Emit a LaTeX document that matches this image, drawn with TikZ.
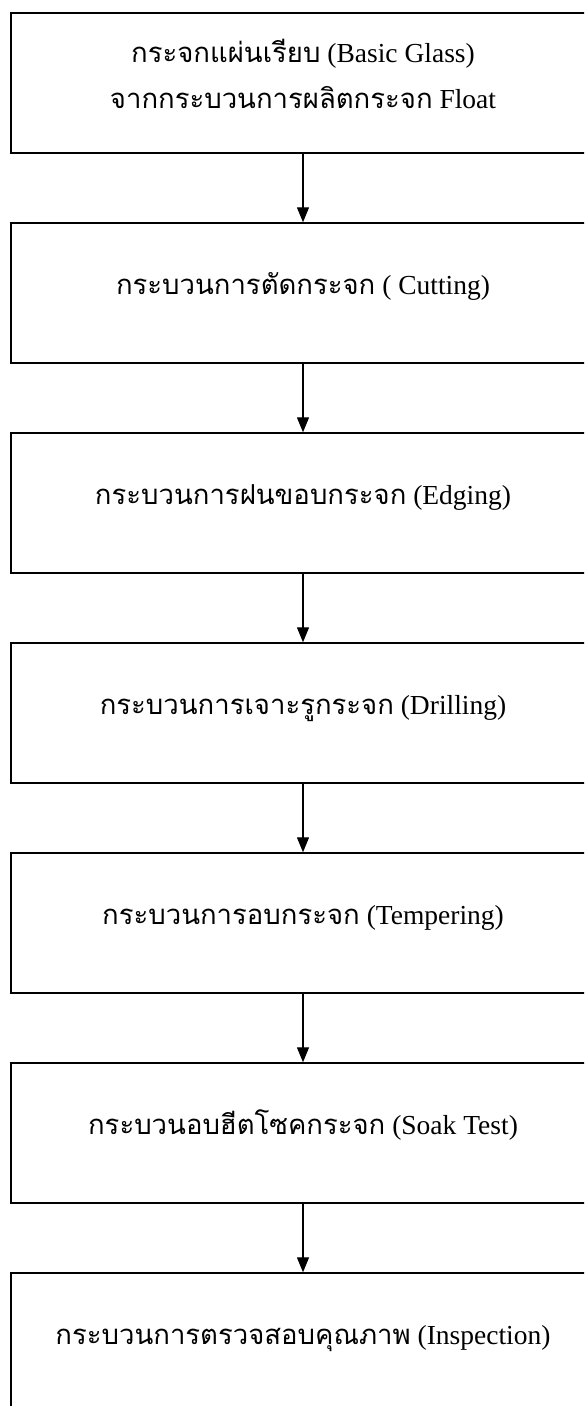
\documentclass[tikz,border=0pt]{standalone}
\usepackage{fontspec}
\setmainfont{Liberation Serif}
\newfontfamily\thaifont[Script=Thai]{Loma}
\usetikzlibrary{positioning, arrows.meta}
\newcommand{\thai}[1]{{\thaifont #1}}
\tikzset{stepbox/.style = {rectangle,draw,line width=1.4pt,minimum width=584pt,minimum height=140pt,inner sep=0pt}}
\tikzset{steptext/.style = {anchor=base,inner sep=0pt,font=\fontsize{27.5}{32}\selectfont}}
\tikzset{flow/.style = {line width=1.3pt,-{Triangle[width=12pt,length=15pt]}}}

\begin{document}
\begin{tikzpicture}
                    \useasboundingbox (0,0) rectangle (584pt,-1406pt);
                    \clip (0,0) rectangle (584pt,-1406pt);

                    \node [stepbox] (glass)   at (303pt, -83pt)  {};
                    \node [stepbox] (cut)     at (303pt,-293pt)  {};
                    \node [stepbox] (edge)    at (303pt,-503pt)  {};
                    \node [stepbox] (drill)   at (303pt,-713pt)  {};
                    \node [stepbox] (temper)  at (303pt,-923pt)  {};
                    \node [stepbox] (soak)    at (303pt,-1133pt) {};
                    \node [stepbox] (inspect) at (303pt,-1343pt) {};

                    \node [steptext] (glassA)   at ([yshift=-50pt]glass.north)   {\thai{กระจกแผ่นเรียบ} (Basic Glass)};
                    \node [steptext] (glassB)   at ([yshift=-96pt]glass.north)   {\thai{จากกระบวนการผลิตกระจก} Float};
                    \node [steptext] (cutA)     at ([yshift=-72pt]cut.north)     {\thai{กระบวนการตัดกระจก} ( Cutting)};
                    \node [steptext] (edgeA)    at ([yshift=-72pt]edge.north)    {\thai{กระบวนการฝนขอบกระจก} (Edging)};
                    \node [steptext] (drillA)   at ([yshift=-72pt]drill.north)   {\thai{กระบวนการเจาะรูกระจก} (Drilling)};
                    \node [steptext] (temperA)  at ([yshift=-72pt]temper.north)  {\thai{กระบวนการอบกระจก} (Tempering)};
                    \node [steptext] (soakA)    at ([yshift=-72pt]soak.north)    {\thai{กระบวนอบฮีตโซคกระจก} (Soak Test)};
                    \node [steptext] (inspectA) at ([yshift=-72pt]inspect.north) {\thai{กระบวนการตรวจสอบคุณภาพ} (Inspection)};

                    \draw [flow] (glass) -- (cut);
                    \draw [flow] (cut) -- (edge);
                    \draw [flow] (edge) -- (drill);
                    \draw [flow] (drill) -- (temper);
                    \draw [flow] (temper) -- (soak);
                    \draw [flow] (soak) -- (inspect);
\end{tikzpicture}
\end{document}
